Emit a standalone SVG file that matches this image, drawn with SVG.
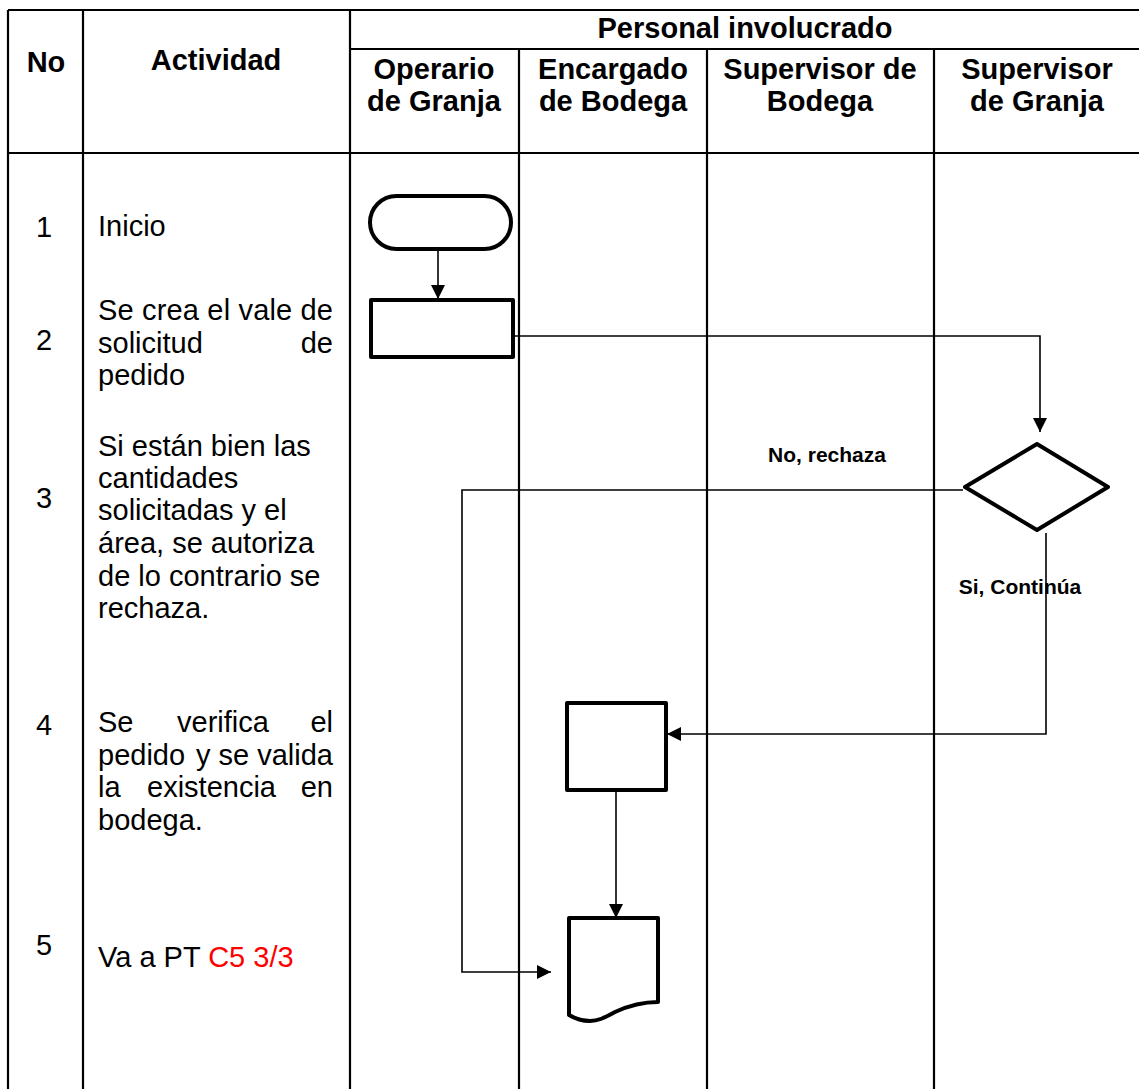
<svg xmlns="http://www.w3.org/2000/svg" width="1139" height="1089" viewBox="0 0 1139 1089">
  <style>
    .grid{stroke:#000;stroke-width:2.2;fill:none}
    .shape{fill:#fff;stroke:#000;stroke-width:4;stroke-linejoin:round}
    .conn{stroke:#000;stroke-width:1.6;fill:none}
    .hd{font-family:"Liberation Sans",Arial,sans-serif;font-weight:bold;font-size:29px;text-anchor:middle;fill:#000}
    .tx{font-family:"Liberation Sans",Arial,sans-serif;font-size:29px;fill:#000}
    .num{font-family:"Liberation Sans",Arial,sans-serif;font-size:29px;text-anchor:middle;fill:#000}
    .lbl{font-family:"Liberation Sans",Arial,sans-serif;font-weight:bold;font-size:21px;text-anchor:middle;fill:#000}
    .red{fill:#ff0000}
  </style>
  <defs>
    <marker id="arrow" viewBox="0 0 14 14" markerWidth="14" markerHeight="14" refX="14" refY="7" orient="auto" markerUnits="userSpaceOnUse">
      <path d="M0,0 L14,7 L0,14 z" fill="#000"/>
    </marker>
  </defs>
  <rect width="1139" height="1089" fill="#fff"/>

  <!-- table grid -->
  <g id="table">
    <path class="grid" d="M8,10 H1139 M350,49 H1139 M8,153 H1139"/>
    <path class="grid" d="M8,10 V1089 M83,10 V1089 M350,10 V1089 M519,49 V1089 M707,49 V1089 M934,49 V1089"/>
  </g>

  <!-- header -->
  <g id="header">
    <text class="hd" x="46" y="72">No</text>
    <text class="hd" x="216" y="70">Actividad</text>
    <text class="hd" x="745" y="38">Personal involucrado</text>
    <text class="hd" x="434" y="79">Operario</text>
    <text class="hd" x="434" y="111">de Granja</text>
    <text class="hd" x="613" y="79">Encargado</text>
    <text class="hd" x="613" y="111">de Bodega</text>
    <text class="hd" x="820" y="79">Supervisor de</text>
    <text class="hd" x="820" y="111">Bodega</text>
    <text class="hd" x="1037" y="79">Supervisor</text>
    <text class="hd" x="1037" y="111">de Granja</text>
  </g>

  <!-- activity rows -->
  <g id="row1">
    <text class="num" x="44" y="237">1</text>
    <text class="tx" x="98" y="236">Inicio</text>
  </g>
  <g id="row2">
    <text class="num" x="44" y="350">2</text>
    <text class="tx" x="98" y="320" textLength="235" lengthAdjust="spacing">Se crea el vale de</text>
    <text class="tx" x="98" y="353">solicitud</text>
    <text class="tx" x="333" y="353" text-anchor="end">de</text>
    <text class="tx" x="98" y="385">pedido</text>
  </g>
  <g id="row3">
    <text class="num" x="44" y="508">3</text>
    <text class="tx" x="98" y="456">Si están bien las</text>
    <text class="tx" x="98" y="488">cantidades</text>
    <text class="tx" x="98" y="520">solicitadas y el</text>
    <text class="tx" x="98" y="553">área, se autoriza</text>
    <text class="tx" x="98" y="586">de lo contrario se</text>
    <text class="tx" x="98" y="618">rechaza.</text>
  </g>
  <g id="row4">
    <text class="num" x="44" y="735">4</text>
    <text class="tx" x="98" y="732">Se</text>
    <text class="tx" x="177" y="732">verifica</text>
    <text class="tx" x="333" y="732" text-anchor="end">el</text>
    <text class="tx" x="98" y="765">pedido</text>
    <text class="tx" x="333" y="765" text-anchor="end">y se valida</text>
    <text class="tx" x="98" y="797">la</text>
    <text class="tx" x="147" y="797">existencia</text>
    <text class="tx" x="333" y="797" text-anchor="end">en</text>
    <text class="tx" x="98" y="830">bodega.</text>
  </g>
  <g id="row5">
    <text class="num" x="44" y="955">5</text>
    <text class="tx" x="98" y="967">Va a PT <tspan class="red">C5 3/3</tspan></text>
  </g>

  <!-- connectors -->
  <g id="connectors">
    <path class="conn" d="M438,250 V299" marker-end="url(#arrow)"/>
    <path class="conn" d="M513,336 H1040 V432" marker-end="url(#arrow)"/>
    <path class="conn" d="M963,490 H462 V972 H551" marker-end="url(#arrow)"/>
    <path class="conn" d="M1046,533 V734 H667" marker-end="url(#arrow)"/>
    <path class="conn" d="M616,790 V918" marker-end="url(#arrow)"/>
    <text class="lbl" x="827" y="462">No, rechaza</text>
    <text class="lbl" x="1020" y="594">Si, Continúa</text>
  </g>

  <!-- flow symbols -->
  <g id="inicio">
    <rect class="shape" x="370" y="196" width="141" height="53" rx="26.5" ry="26.5"/>
  </g>
  <g id="crear-vale">
    <rect class="shape" x="371" y="300" width="142" height="57"/>
  </g>
  <g id="autorizar">
    <path class="shape" d="M1037,444 L1108,487 L1037,530 L965,487 Z"/>
  </g>
  <g id="verificar">
    <rect class="shape" x="567" y="703" width="99" height="87"/>
  </g>
  <g id="documento">
    <path class="shape" d="M569,918 H658 V1002 C640,1002 628,1006 615,1012 C604,1018 598,1021 590,1021 C580,1021 574,1018 569,1015 Z"/>
  </g>
</svg>
